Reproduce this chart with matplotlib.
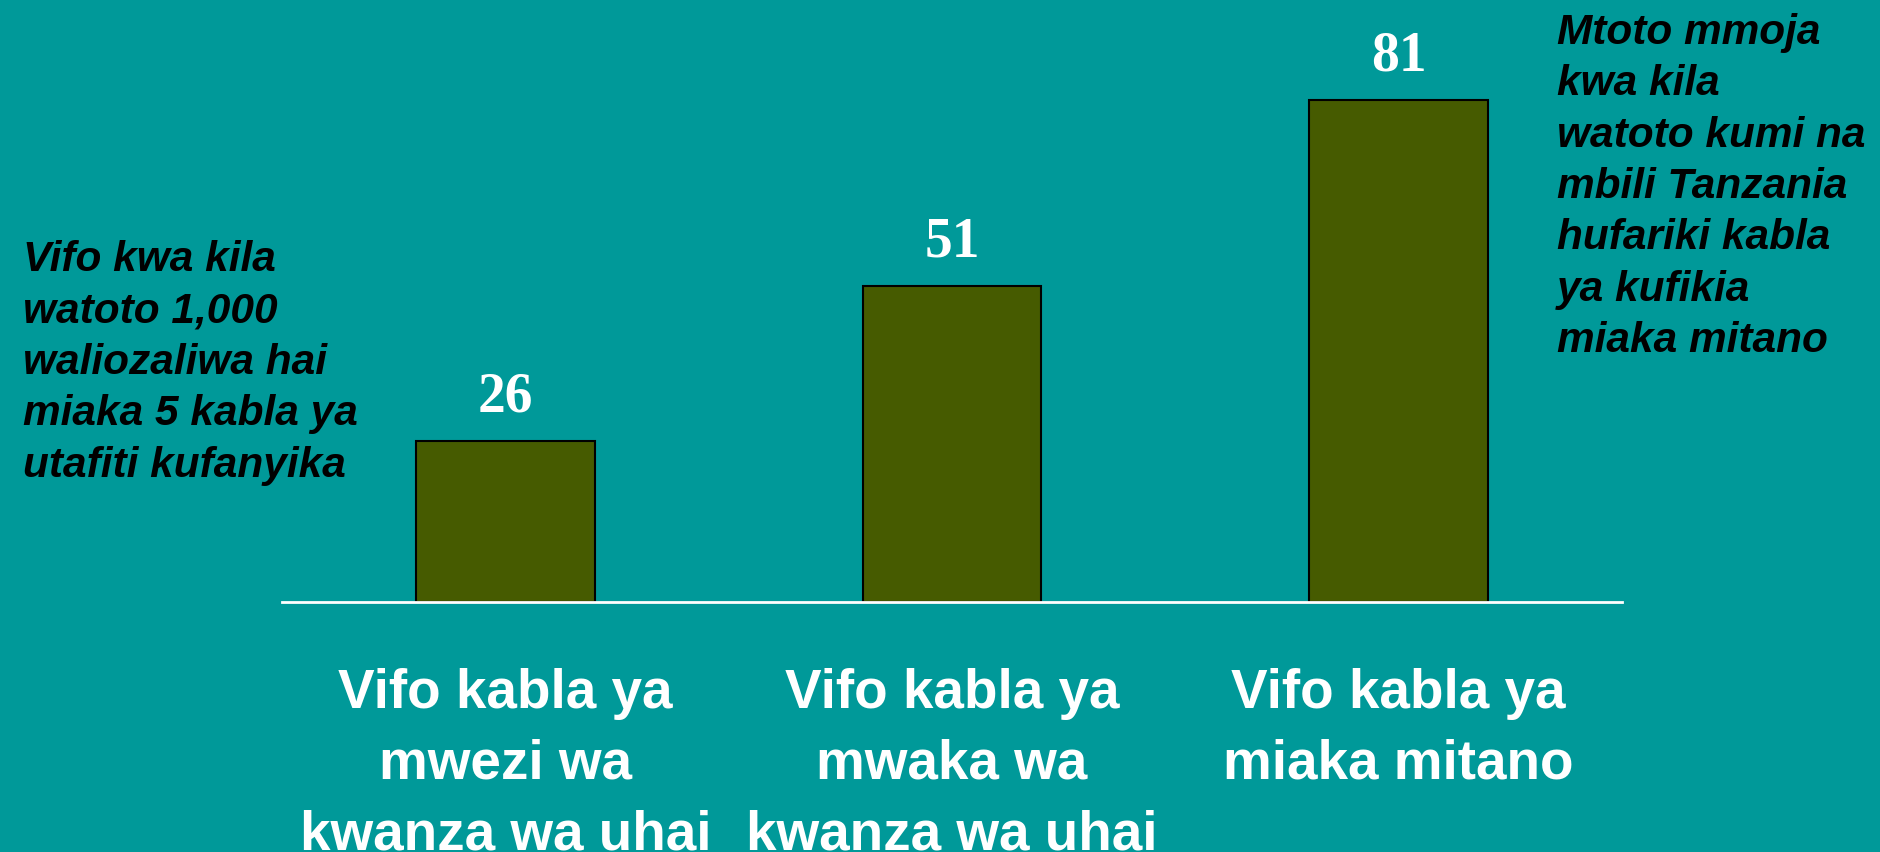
import matplotlib
matplotlib.use("Agg")
import matplotlib.pyplot as plt

# data
categories = ["Vifo kabla ya\nmwezi wa\nkwanza wa uhai",
              "Vifo kabla ya\nmwaka wa\nkwanza wa uhai",
              "Vifo kabla ya\nmiaka mitano"]
vifo = [26, 51, 81]

note_left = "Vifo kwa kila\nwatoto 1,000\nwaliozaliwa hai\nmiaka 5 kabla ya\nutafiti kufanyika"
note_right = "Mtoto mmoja\nkwa kila\nwatoto kumi na\nmbili Tanzania\nhufariki kabla\nya kufikia\nmiaka mitano"

bg = "#009999"
bar_color = "#465b00"

fig = plt.figure(figsize=(18.8, 8.52), dpi=100, facecolor=bg)
ax = fig.add_axes([0.15, 0.2934, 0.7128, 0.7066])
ax.set_facecolor(bg)

x = range(len(vifo))
ax.bar(x, vifo, width=0.40, color=bar_color, edgecolor="black", linewidth=1.5, zorder=2)

for xi, v in zip(x, vifo):
    ax.annotate(str(v), (xi, v), xytext=(0, 21), textcoords="offset points",
                ha="center", va="baseline", color="white", fontsize=40,
                fontweight="bold", family="Liberation Serif")

ax.set_xlim(-0.5, 2.5)
ax.set_ylim(0, 97.1)
ax.set_yticks([])
ax.set_xticks(list(x))
ax.set_xticklabels(categories, color="white", fontsize=39.5, fontweight="bold",
                   family="Liberation Sans", linespacing=1.47)
ax.tick_params(axis="x", length=0, pad=47.5)

for s in ["top", "left", "right"]:
    ax.spines[s].set_visible(False)
ax.spines["bottom"].set_color("white")
ax.spines["bottom"].set_linewidth(2)
ax.spines["bottom"].set_zorder(3)

# va="baseline" pins the last line's baseline
note_style = dict(ha="left", va="baseline", fontsize=30.5, fontweight="bold",
                  fontstyle="italic", family="Liberation Sans", color="black",
                  linespacing=1.365)
fig.text(0.0122, 0.4405, note_left, **note_style)
fig.text(0.828, 0.587, note_right, **note_style)

fig.savefig("out.png", dpi=100, facecolor=bg)
